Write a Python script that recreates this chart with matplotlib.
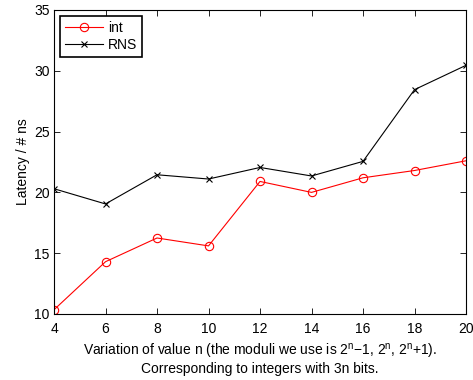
import matplotlib
matplotlib.use("Agg")
import matplotlib.pyplot as plt

plt.rcParams['font.family'] = ['Liberation Sans', 'DejaVu Sans']
plt.rcParams['mathtext.default'] = 'regular'

n_values = [4, 6, 8, 10, 12, 14, 16, 18, 20]
int_latency = [10.35, 14.3, 16.25, 15.6, 20.9, 20.0, 21.2, 21.8, 22.6]
rns_latency = [20.3, 19.05, 21.45, 21.1, 22.05, 21.35, 22.55, 28.45, 30.45]
x_ticks = [4, 6, 8, 10, 12, 14, 16, 18, 20]
y_ticks = [10, 15, 20, 25, 30, 35]

fig = plt.figure(figsize=(4.73, 3.8), dpi=100)
ax = fig.add_axes([0.1142, 0.1737, 0.871, 0.8])

ax.plot(n_values, int_latency, color='red', marker='o', markerfacecolor='none',
        markersize=6, linewidth=0.8, markeredgewidth=0.8, label='int')
ax.plot(n_values, rns_latency, color='black', marker='x', markersize=4.5,
        linewidth=0.8, markeredgewidth=0.8, label='RNS')

ax.set_xlim(4, 20)
ax.set_ylim(10, 35)
ax.set_xticks(x_ticks)
ax.set_yticks(y_ticks)
ax.tick_params(direction='in', top=True, right=True, length=4, width=0.6,
               labelsize=10)
ax.tick_params(axis='x', pad=5.5)
ax.tick_params(axis='y', pad=3)
for s in ax.spines.values():
    s.set_linewidth(0.8)

ax.set_ylabel('Latency / # ns', fontsize=10, labelpad=3)
ax.set_xlabel('Variation of value n (the moduli we use is $2^n$\u22121, $2^n$, $2^n$+1).\n'
              'Corresponding to integers with 3n bits.', fontsize=10, labelpad=4.5,
              linespacing=1.08)

leg = ax.legend(loc='upper left', fontsize=10, fancybox=False, edgecolor='black',
                framealpha=1, borderpad=0.35, labelspacing=0.2, handlelength=2.7,
                handletextpad=0.4, borderaxespad=0.45)
leg.get_frame().set_linewidth(1.2)

fig.savefig('out.png', dpi=100)
